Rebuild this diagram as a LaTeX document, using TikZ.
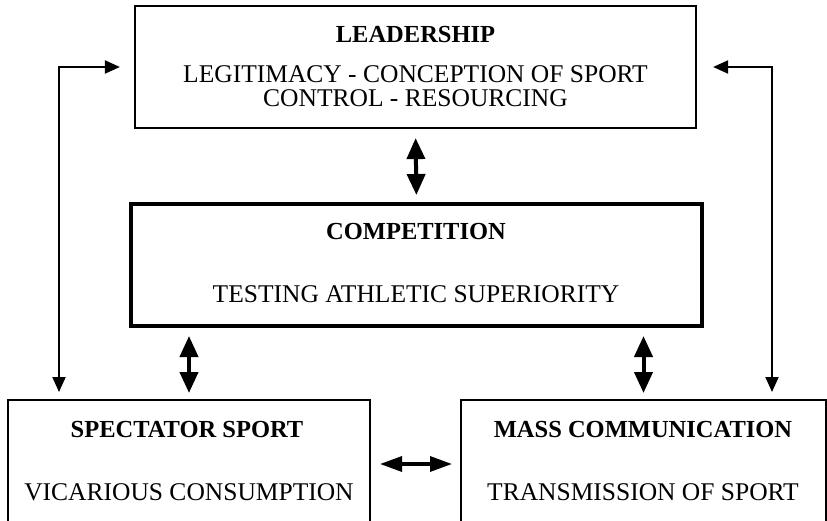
\documentclass[tikz,border=0pt]{standalone}
\usepackage{fontspec}
\setmainfont{Liberation Serif}
\usetikzlibrary{arrows.meta}
\begin{document}
\begin{tikzpicture}[x=1pt,y=-1pt,
  box/.style={draw,line width=2.2pt,rectangle,inner sep=0pt},
  hd/.style={font=\fontsize{24.5}{28}\selectfont\bfseries,anchor=base,inner sep=0pt},
  tx/.style={font=\fontsize{25.5}{28}\selectfont,anchor=base,inner sep=0pt},
  dbl/.style={line width=4pt,{Triangle[length=21pt,width=18pt]}-{Triangle[length=21pt,width=18pt]}},
  hdbl/.style={line width=3.2pt,{Triangle[length=22pt,width=15pt]}-{Triangle[length=22pt,width=15pt]}},
  lnk/.style={line width=2pt,{Triangle[length=15pt,width=13pt]}-{Triangle[length=15pt,width=13pt]}}]
\useasboundingbox (0,0) rectangle (827,521);

% boxes
\node[box,minimum width=561pt,minimum height=122pt] (lead) at (415.5,67) {};
\node[box,line width=4pt,minimum width=571pt,minimum height=122pt] (comp) at (416.5,265) {};
\node[box,line width=2pt,minimum width=362pt,minimum height=128pt] (spec) at (189,464) {};
\node[box,line width=2pt,minimum width=365pt,minimum height=128pt] (mass) at (643.5,464) {};

% texts
\node[hd] (leadT) at (415.5,43) {LEADERSHIP};
\node[tx] (leadA) at (415.5,83) {LEGITIMACY - CONCEPTION OF SPORT};
\node[tx] (leadB) at (415.5,107) {CONTROL - RESOURCING};
\node[hd] (compT) at (416,240) {COMPETITION};
\node[tx] (compA) at (416,302) {TESTING ATHLETIC SUPERIORITY};
\node[hd] (specT) at (187,437) {SPECTATOR SPORT};
\node[tx] (specA) at (189,500) {VICARIOUS CONSUMPTION};
\node[hd] (massT) at (643,437) {MASS COMMUNICATION};
\node[tx] (massA) at (643,500) {TRANSMISSION OF SPORT};

% connectors
\draw[dbl,shorten <=9pt,shorten >=7pt] (lead.south) -- (comp.north);
\draw[dbl,shorten <=8pt,shorten >=6pt] (spec.north |- comp.south) -- (spec.north);
\draw[dbl,shorten <=8pt,shorten >=6pt] (mass.north |- comp.south) -- (mass.north);
\draw[hdbl,shorten <=9pt,shorten >=8pt] (spec.east) -- (mass.west);

\coordinate (lc) at (59,67);
\coordinate (rc) at (772,67);
\draw[lnk,shorten <=14pt,shorten >=7pt] (lead.west) -- (lc) -- (lc |- spec.north);
\draw[lnk,shorten <=16pt,shorten >=7pt] (lead.east) -- (rc) -- (rc |- mass.north);
\end{tikzpicture}
\end{document}
